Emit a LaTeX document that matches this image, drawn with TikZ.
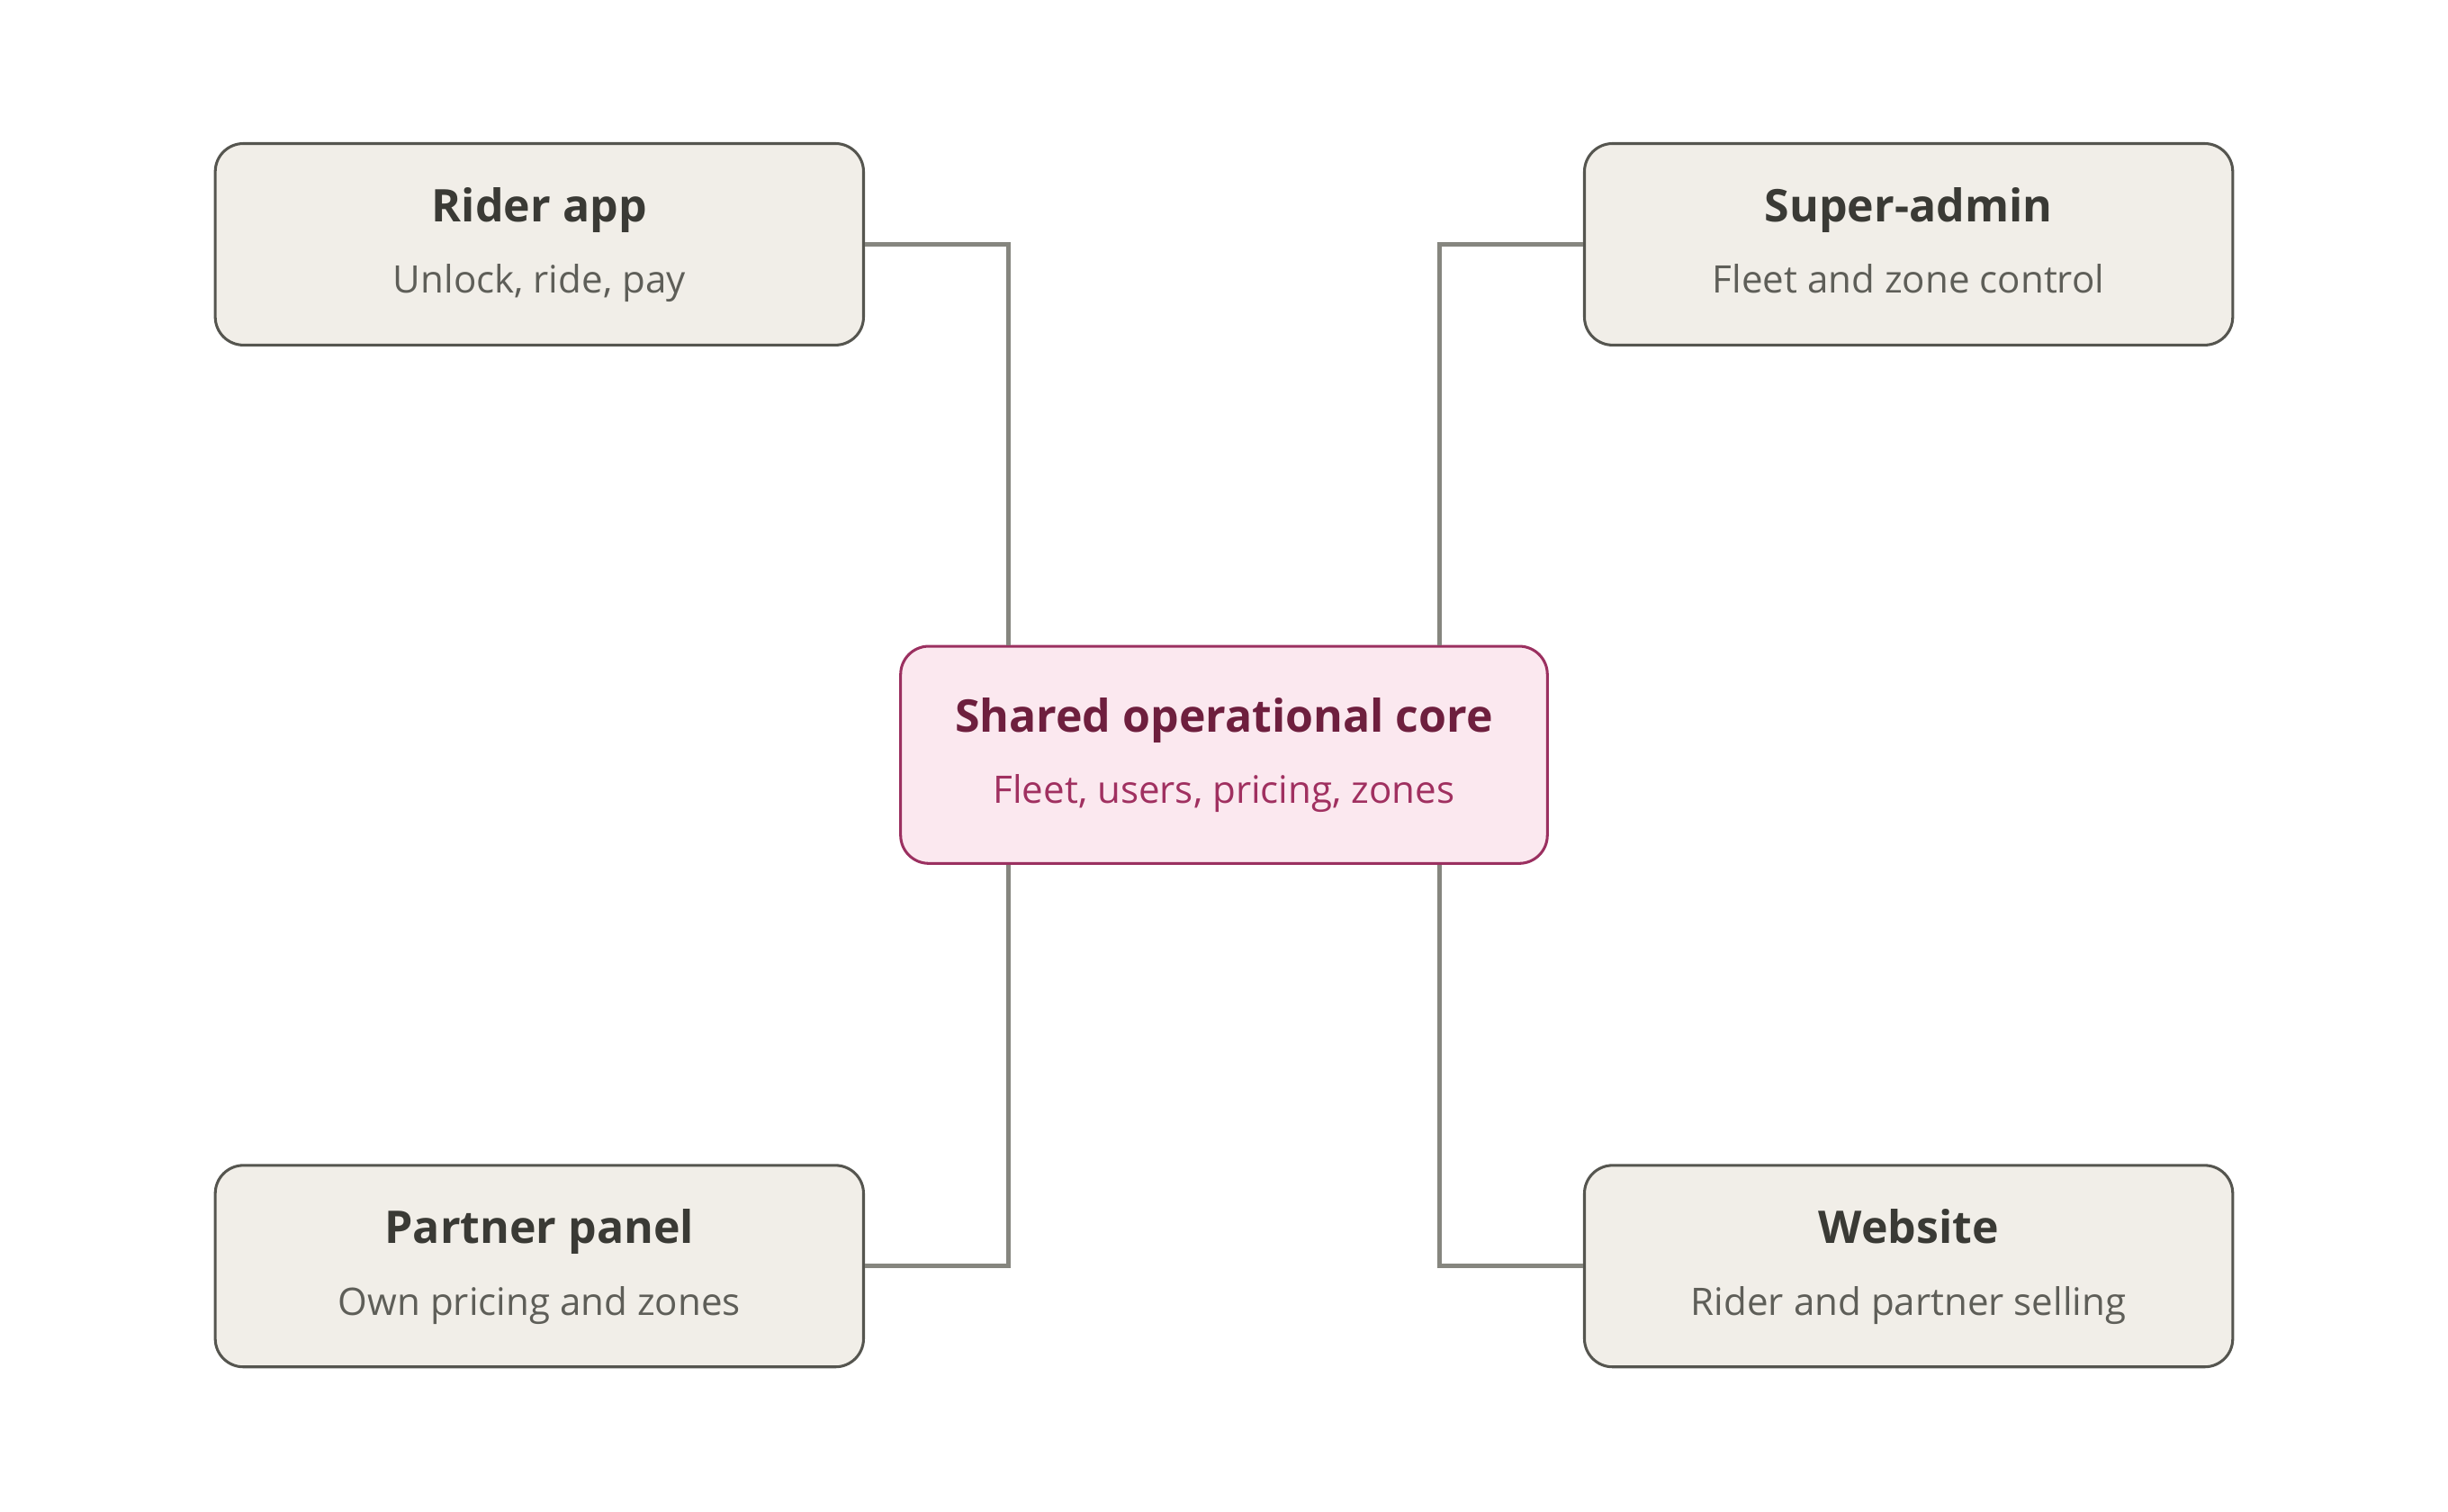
\documentclass[tikz,border=0pt]{standalone}
\usepackage{fontspec}
\setmainfont{Open Sans}
\definecolor{boxfill}{HTML}{F1EEE8}
\definecolor{boxdraw}{HTML}{55554F}
\definecolor{corefill}{HTML}{FBE8EF}
\definecolor{coredraw}{HTML}{9B3060}
\definecolor{coretitle}{HTML}{6E1F3E}
\definecolor{coresub}{HTML}{A03060}
\definecolor{ttl}{HTML}{3A3A35}
\definecolor{sub}{HTML}{5E5E58}
\definecolor{wire}{HTML}{86867F}
\begin{document}
\begin{tikzpicture}[x=0.01cm,y=-0.01cm,
  box/.style={draw=boxdraw,fill=boxfill,rounded corners=0.18cm,line width=0.5pt,minimum width=4.15cm,minimum height=1.29cm,align=center,inner sep=0pt},
  core/.style={box,draw=coredraw,fill=corefill,minimum height=1.39cm,minimum width=4.14cm},
  wire/.style={draw=wire,line width=0.85pt},
  t/.style={font=\fontsize{8.2pt}{10pt}\selectfont\bfseries,text=ttl},
  s/.style={font=\fontsize{6.9pt}{9pt}\selectfont,text=sub}]
\useasboundingbox (0,0) rectangle (1568,968);
\node[box] (rider) at (345.5,156.5) {\begin{tabular}{c}{\fontsize{8.2pt}{10pt}\selectfont\bfseries\color{ttl}Rider app}\\[1pt]{\fontsize{6.9pt}{9pt}\selectfont\color{sub}Unlock, ride, pay}\end{tabular}};
\node[box] (admin) at (1222.5,156.5) {\begin{tabular}{c}{\fontsize{8.2pt}{10pt}\selectfont\bfseries\color{ttl}Super-admin}\\[1pt]{\fontsize{6.9pt}{9pt}\selectfont\color{sub}Fleet and zone control}\end{tabular}};
\node[box] (partner) at (345.5,811) {\begin{tabular}{c}{\fontsize{8.2pt}{10pt}\selectfont\bfseries\color{ttl}Partner panel}\\[1pt]{\fontsize{6.9pt}{9pt}\selectfont\color{sub}Own pricing and zones}\end{tabular}};
\node[box] (web) at (1222.5,811) {\begin{tabular}{c}{\fontsize{8.2pt}{10pt}\selectfont\bfseries\color{ttl}Website}\\[1pt]{\fontsize{6.9pt}{9pt}\selectfont\color{sub}Rider and partner selling}\end{tabular}};
\node[core] (core) at (784,483.5) {\begin{tabular}{c}{\fontsize{8.2pt}{10pt}\selectfont\bfseries\color{coretitle}Shared operational core}\\[1pt]{\fontsize{6.9pt}{9pt}\selectfont\color{coresub}Fleet, users, pricing, zones}\end{tabular}};
\coordinate (c1) at (646,156.5);
\coordinate (c2) at (922,156.5);
\coordinate (c3) at (646,811);
\coordinate (c4) at (922,811);
\draw[wire] (rider.east) -- (c1) -- (c1 |- core.north);
\draw[wire] (admin.west) -- (c2) -- (c2 |- core.north);
\draw[wire] (partner.east) -- (c3) -- (c3 |- core.south);
\draw[wire] (web.west) -- (c4) -- (c4 |- core.south);
\end{tikzpicture}
\end{document}
